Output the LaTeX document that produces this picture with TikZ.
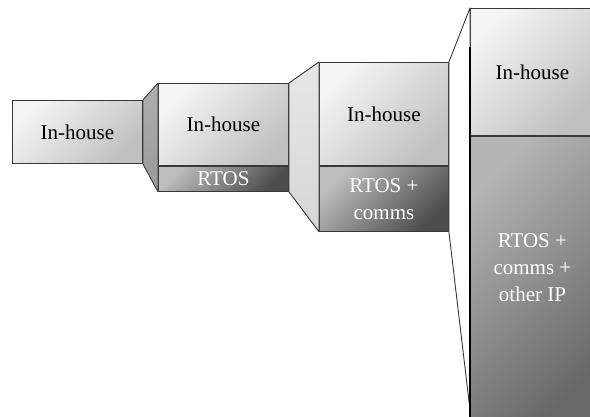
\documentclass[tikz,border=0pt]{standalone}
\usepackage{fontspec}
\setmainfont{Liberation Serif}
\usetikzlibrary{positioning}

\definecolor{edge}{HTML}{383838}
\definecolor{litetop}{HTML}{F4F4F4}
\definecolor{litebot}{HTML}{C0C0C0}
\definecolor{darktop}{HTML}{BEBEBE}
\definecolor{darkbot}{HTML}{4C4C4C}
\definecolor{bigtop}{HTML}{B4B4B4}
\definecolor{bigbot}{HTML}{686868}
\definecolor{jointa}{HTML}{9A9A9A}
\definecolor{jointb}{HTML}{D6D6D6}

\begin{document}
\begin{tikzpicture}[x=1pt, y=-1pt,
        basic/.style   = {draw=edge, line width=0.9pt, rectangle, inner sep=0pt, align=center,
                          font=\fontsize{21}{27}\selectfont},
        inhouse/.style = {basic, top color=litetop, bottom color=litebot, shading angle=45, text=black},
        ipblock/.style = {basic, top color=darktop, bottom color=darkbot, shading angle=45, text=white},
        bigblock/.style = {basic, top color=bigtop, bottom color=bigbot, shading angle=45},
        iptext/.style  = {align=center, text=white, font=\fontsize{21}{27}\selectfont},
        joint/.style   = {draw=edge, line width=0.9pt, line join=round},
        node distance=0pt]

    \useasboundingbox (0,0) rectangle (590,416);
    \clip (0,0) rectangle (590,416);

    % first stage, all in-house
    \node[inhouse, anchor=north west, minimum width=130pt, minimum height=63pt] (b1) at (12,100) {In-house};

    % second stage
    \node[inhouse, anchor=north west, minimum width=130pt, minimum height=82pt] (b2) at (158,83) {In-house};
    \node[ipblock, below=of b2, minimum width=130pt, minimum height=25pt] (b2ip) {RTOS};

    % third stage
    \node[inhouse, anchor=north west, minimum width=129pt, minimum height=103pt] (b3) at (319,62) {In-house};
    \node[ipblock, below=of b3, minimum width=129pt, minimum height=65pt] (b3ip) {RTOS +\\ comms};

    % fourth stage, runs off the page
    \node[inhouse, anchor=north west, minimum width=124pt, minimum height=127pt] (b4) at (470,8) {In-house};
    \node[bigblock, below=of b4, minimum width=124pt, minimum height=291pt] (b4ip) {};
    \node[iptext] (b4txt) at ([yshift=14pt]b4ip.center) {RTOS +\\ comms +\\ other IP};

    % the slanted pieces between the stages
    \path[joint, top color=jointa!80!white, bottom color=jointa]
        (b1.north east) -- (b2.north west) -- (b2ip.south west) -- (b1.south east) -- cycle;
    \path[joint, top color=jointb!60!white, bottom color=jointb]
        (b2.north east) -- (b3.north west) -- (b3ip.south west) -- (b2ip.south east) -- cycle;
    \path[joint, fill=white]
        (b3.north east) -- (b4.north west) -- ([yshift=18pt]b4ip.south west) -- (b3ip.south east) -- cycle;

    \draw[line width=2.2pt, black] ([yshift=-39pt]b4.north west) -- (b4ip.south west);

\end{tikzpicture}
\end{document}
